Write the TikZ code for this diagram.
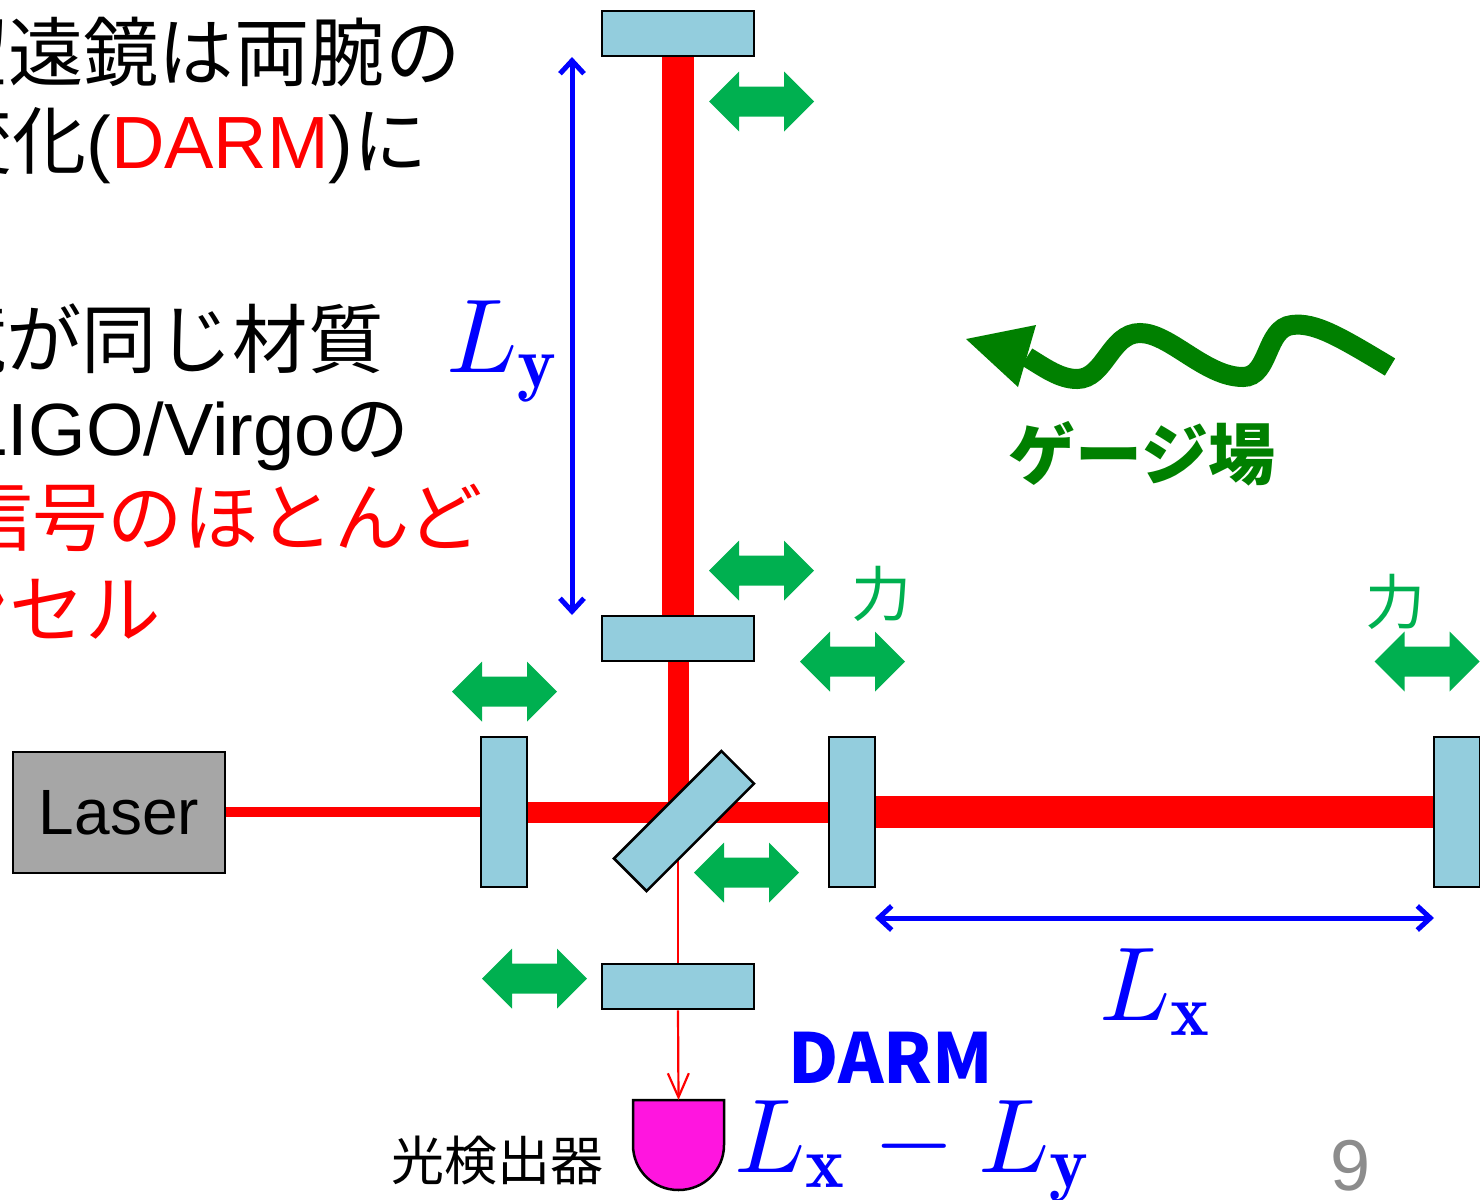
\documentclass[tikz,border=0pt]{standalone}
\usepackage{fontspec}
\usepackage{xcolor}
\usepackage{graphicx}
\usetikzlibrary{arrows.meta,backgrounds}
\newfontfamily\sansf{Liberation Sans}
\newfontfamily\cjkf{Noto Sans CJK JP}
\definecolor{mirrorblue}{HTML}{93CDDD}
\definecolor{forcegreen}{HTML}{00B050}
\definecolor{fieldgreen}{HTML}{008000}
\definecolor{lasergray}{HTML}{A6A6A6}
\definecolor{pdpink}{HTML}{FF15DF}
\definecolor{pagegray}{HTML}{8C8C8C}
\newcommand{\fs}[1]{\fontsize{#1}{#1}\selectfont}
\newcommand{\bigmath}[1]{\scalebox{5.25}{$#1$}}
\tikzset{
  hmirror/.style={draw=black,line width=1.25pt,fill=mirrorblue,inner sep=0pt,minimum width=76pt,minimum height=22.5pt},
  vmirror/.style={draw=black,line width=1.25pt,fill=mirrorblue,inner sep=0pt,minimum width=23pt,minimum height=75pt},
  beam/.style={draw=red,line width=#1},
  bluedim/.style={draw=blue,line width=2.5pt,{Straight Barb[length=6.5pt,width=12pt]}-{Straight Barb[length=6.5pt,width=12pt]}},
  bigtext/.style={inner sep=0pt,anchor=base east,font=\fs{37}},
  cjkline/.style={inner sep=0pt,anchor=base east,font=\cjkf\fs{37.7}},
  mathlabel/.style={inner sep=0pt,anchor=base west,text=blue},
  forcelabel/.style={inner sep=0pt,text=forcegreen,font=\cjkf\fs{30}},
  garrow/.pic={\fill[forcegreen] (-52.5,0)--(-22.5,-30)--(-22.5,-15)--(22.5,-15)--(22.5,-30)--(52.5,0)--(22.5,30)--(22.5,15)--(-22.5,15)--(-22.5,30)--cycle;}
}
\begin{document}
\begin{tikzpicture}[x=0.5pt,y=-0.5pt]
\useasboundingbox (0,0) rectangle (1480,1200);
\clip (0,0) rectangle (1480,1200);

% optics
\node[hmirror] (ytop) at (678,33.5) {};
\node[hmirror] (ynear) at (678,638.5) {};
\node[hmirror] (dark) at (678,986.5) {};
\node[vmirror] (prm) at (504,812) {};
\node[vmirror] (xnear) at (852,812) {};
\node[vmirror] (xend) at (1457,812) {};
\node[draw=black,line width=1.25pt,fill=mirrorblue,inner sep=0pt,minimum width=76pt,minimum height=23pt,rotate=45] (bs) at (684,821) {};
\node[draw=black,line width=1.25pt,fill=lasergray,inner sep=0pt,minimum width=106pt,minimum height=60.5pt,font=\sansf\fs{32}] (laser) at (119,812.5) {\raisebox{-2pt}{Laser}};

% detector
\coordinate (pdtop) at (678.5,1100);
\draw[line width=1.25pt,fill=pdpink] (633,1100) -- (724,1100) -- (724,1145) .. controls (724,1170) and (704,1190) .. (678.5,1190) .. controls (653,1190) and (633,1170) .. (633,1145) -- cycle;

% beams
\begin{scope}[on background layer]
\draw[beam=5pt] (laser.east |- prm.center) -- (prm);
\draw[beam=10.5pt] (prm) -- (xnear);
\draw[beam=16pt] (xnear) -- (xend);
\draw[beam=16pt] (ytop) -- (ynear);
\draw[beam=10.5pt] (ynear.south) -- (ynear.south |- prm.center);
\draw[beam=1.1pt] (dark.north) -- (dark.north |- bs.center);
\end{scope}
\draw[beam=1.1pt,-{Straight Barb[length=12pt,width=10.5pt]}] (dark.south) -- (pdtop);

% length arrows
\coordinate (ya) at (572,57);
\coordinate (yb) at (572,615);
\coordinate (xa) at (875,918);
\coordinate (xb) at (1434,918);
\draw[bluedim] (ya) -- (yb);
\draw[bluedim] (xa) -- (xb);

% force arrows
\pic at (761.5,101.5) {garrow};
\pic at (761.5,570.5) {garrow};
\pic at (852.5,661.5) {garrow};
\pic at (1427,661.5) {garrow};
\pic at (504.5,691.5) {garrow};
\pic at (746.5,872.5) {garrow};
\pic at (534.5,978.5) {garrow};
\node[forcelabel] (f1) at (881,594) {力};
\node[forcelabel] (f2) at (1395,602) {力};

% gauge field wave
\draw[fieldgreen,line width=10pt] (1390,367) .. controls (1340,337) and (1315,322) .. (1292,325) .. controls (1265,328) and (1270,377) .. (1243,377) .. controls (1205,377) and (1170,333) .. (1140,333) .. controls (1110,333) and (1105,379) .. (1077,379) .. controls (1060,379) and (1045,368) .. (1027,357);
\fill[fieldgreen] (966,339) -- (1036,325) -- (1018,387) -- cycle;
\node[inner sep=0pt,text=fieldgreen,font=\cjkf\bfseries\fs{33.5}] (gauge) at (1142,454) {ゲージ場};

% body text
\node[cjkline] (t1) at (461,80) {望遠鏡は両腕の};
\node[bigtext] (t2) at (428,168) {{\cjkf 変化}{\sansf (\textcolor{red}{DARM})}{\cjkf に}};
\node[cjkline] (t4) at (384,367) {鏡が同じ材質};
\node[bigtext] (t5) at (410,455) {{\sansf LIGO/Virgo}{\cjkf の}};
\node[cjkline,text=red] (t6) at (483,545) {信号のほとんど};
\node[cjkline,text=red] (t7) at (161,637) {キャンセル};

% symbols
\node[mathlabel] (ly) at (446,372) {\bigmath{L_{\mathbf{y}}}};
\node[mathlabel] (lx) at (1099,1020) {\bigmath{L_{\mathbf{x}}}};
\node[mathlabel] (darmf) at (734,1172) {\bigmath{L_{\mathbf{x}}-L_{\mathbf{y}}}};
\node[inner sep=0pt,anchor=base,text=blue,font=\cjkf\bfseries\fs{34.5}] (darm) at (891,1083) {DARM};
\node[inner sep=0pt,anchor=base,font=\cjkf\fs{26.5}] (pd) at (497.5,1180) {光検出器};
\node[inner sep=0pt,text=pagegray,font=\sansf\fs{36}] (page) at (1351,1166) {9};
\end{tikzpicture}
\end{document}
